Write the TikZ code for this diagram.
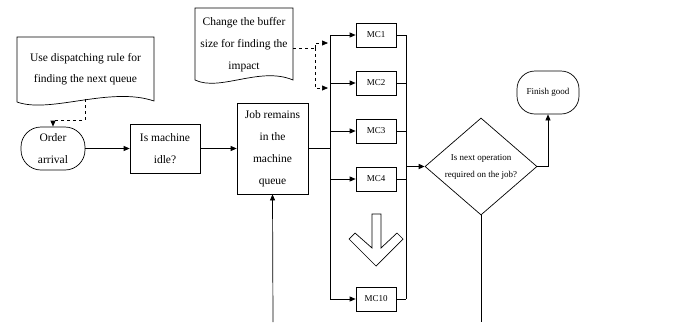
\documentclass[tikz,border=0pt]{standalone}
\usepackage{fontspec}
\setmainfont{Liberation Serif}
\usetikzlibrary{shapes.geometric,arrows.meta}
\tikzset{
  box/.style={draw, align=center, inner sep=0pt, font=\fontsize{11.5}{22}\selectfont},
  term/.style={box, rounded corners=20pt},
  mcbox/.style={draw, minimum width=40pt, minimum height=24pt, inner sep=0pt, font=\fontsize{9}{10}\selectfont},
  flow/.style={-{Triangle[length=6pt,width=5pt]}},
  bus/.style={line width=1.6pt},
}
\begin{document}
\begin{tikzpicture}[x=1pt, y=-1pt, line width=0.7pt]
        \useasboundingbox (0,0) rectangle (677,322);

        % document shapes
        \draw (17,102) -- (17,37) -- (154,37) -- (154,101) .. controls (110,86) and (50,114) .. (17,102);
        \node[align=center, font=\fontsize{11.5}{21}\selectfont] (rule) at (85.5,69) {Use dispatching rule for\\finding the next queue};
        \draw (195,80) -- (195,8) -- (293,8) -- (293,80) .. controls (260,66) and (220,92) .. (195,80);
        \node[align=center, font=\fontsize{11.5}{22}\selectfont] (buffer) at (244,45) {Change the buffer\\size for finding the\\impact};
        \coordinate (rule out) at (85,99);
        \coordinate (buffer out) at (293,48);

        % main flow
        \node[term, minimum width=64pt, minimum height=43pt] (order) at (53,148.5) {Order\\arrival};
        \node[box, minimum width=70pt, minimum height=49pt] (idle) at (165,148.5) {Is machine\\idle?};
        \node[box, minimum width=71pt, minimum height=91pt] (queue) at (272.5,148.5) {Job remains\\in the\\machine\\queue};

        \node[mcbox] (mc1) at (376,35) {MC1};
        \node[mcbox] (mc2) at (376,83) {MC2};
        \node[mcbox] (mc3) at (376,131) {MC3};
        \node[mcbox] (mc4) at (376,179) {MC4};
        \node[mcbox] (mc10) at (376,299) {MC10};

        \node[draw, diamond, aspect=1.15, minimum width=112pt, minimum height=97pt, inner sep=0pt, align=center, font=\fontsize{9}{17}\selectfont] (next) at (481,166.5) {Is next operation\\required on the job?};
        \node[box, rounded corners=18pt, minimum width=62pt, minimum height=43pt, font=\fontsize{9}{10}\selectfont] (finish) at (548,92.5) {Finish good};

        \coordinate (in top) at (330,35);
        \coordinate (in bot) at (330,299);
        \coordinate (out top) at (406,35);
        \coordinate (out bot) at (406,299);
        \coordinate (loop in) at (273,322);
        \coordinate (loop out) at (481,322);

        % connectors
        \draw[flow, dashed] (rule out) |- (53,120) -- (order.north);
        \draw[flow] (order) -- (idle);
        \draw[flow] (idle) -- (queue);
        \draw[flow] (loop in) -- (queue.south);
        \draw[bus] (queue.east) -- (330,148.5);

        \draw (in top) -- (in bot);
        \draw (out top) -- (out bot);
        \foreach \m in {mc1,mc2,mc3,mc4,mc10} {
          \draw[flow] (in top |- \m) -- (\m.west);
          \draw (\m.east) -- (out top |- \m);
        }

        \draw[dashed] (buffer out) -- (315,48);
        \draw[flow, dashed] (315,48) |- (328,43);
        \draw[flow, dashed] (315,48) |- (328,88);

        \draw[bus, flow] (406,166.5) -- (next.west);
        \draw[flow] (next.east) -| (finish.south);
        \draw (next.south) -- (loop out);

        % hollow arrow between MC4 and MC10
        \draw (372,214) -- (381,214) -- (381,248) -- (397,233) -- (403,239) -- (376,266) -- (349,239) -- (355,233) -- (372,248) -- cycle;
\end{tikzpicture}
\end{document}
